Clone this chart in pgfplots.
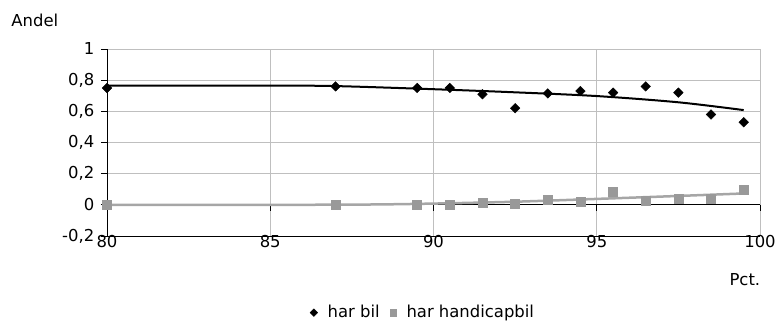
\documentclass[border=0pt]{standalone}
\usepackage{pgfplots}
\pgfplotsset{compat=1.18}
\usepackage{fontspec}
\setmainfont{DejaVu Sans}
\definecolor{grid}{HTML}{3A3A3A}
\definecolor{sgray}{HTML}{999999}
\definecolor{tgray}{HTML}{A6A6A6}
\begin{document}
\fontsize{16.5}{19}\selectfont
\begin{tikzpicture}
\useasboundingbox (0,0) rectangle (778bp,333bp);
\begin{axis}[
  at={(107bp,97bp)}, anchor=south west,
  scale only axis, width=653bp, height=187bp,
  xmin=80, xmax=100, ymin=-0.2, ymax=1,
  xtick={80,85,90,95,100},
  ytick={-0.2,0,0.2,0.4,0.6,0.8,1},
  axis lines*=left,
  axis line style={black, line width=0.8bp, -},
  ymajorgrids, grid style={grid, line width=0.8bp},
  x tick style={draw=none},
  y tick style={black, line width=0.8bp},
  tick align=outside, major tick length=6bp,
  xticklabel style={anchor=center, yshift=0bp, font=\fontsize{16.5}{19}\selectfont},
  yticklabel style={font=\fontsize{16.5}{19}\selectfont, xshift=-1bp},
  /pgf/number format/use comma,
  /pgf/number format/assume math mode=true,
  xlabel={Pct.},
  xlabel style={at={(axis description cs:1.009,-0.235)}, anchor=east, font=\fontsize{16.5}{19}\selectfont},
  ylabel={Andel},
  ylabel style={rotate=-90, at={(axis description cs:-0.155,1.155)}, anchor=west, font=\fontsize{16.5}{19}\selectfont},
  legend columns=2,
  legend style={at={(axis description cs:0.484,-0.41)}, anchor=center, draw=none, fill=none,
    font=\fontsize{16.5}{19}\selectfont, column sep=8bp},
  legend cell align=left,
  clip=false,
]
\draw[black, line width=0.8bp] (axis cs:80,0) -- (axis cs:100,0);
\draw[black, line width=0.8bp] (axis cs:85,0) -- ([yshift=-6bp]axis cs:85,0);
\draw[black, line width=0.8bp] (axis cs:90,0) -- ([yshift=-6bp]axis cs:90,0);
\draw[black, line width=0.8bp] (axis cs:95,0) -- ([yshift=-6bp]axis cs:95,0);
\draw[black, line width=0.8bp] (axis cs:100,0) -- ([yshift=-6bp]axis cs:100,0);
% trend lines
\addplot[black, line width=2bp, smooth, forget plot] coordinates {
(80,0.765) (85,0.765) (87,0.762) (90,0.742) (92.5,0.722) (95,0.698) (97.5,0.658) (99.5,0.608)};
\addplot[tgray, line width=2.5bp, smooth, forget plot] coordinates {
(80,0.0) (85,0.0) (88,0.002) (90,0.008) (92.5,0.02) (95,0.038) (97.5,0.057) (99.5,0.073)};
% data
\addplot[only marks, mark=square*, mark size=3.4bp, black,
  every mark/.append style={rotate=45},
  legend image post style={mark size=2.7bp}] coordinates {
(80,0.75) (87,0.76) (89.5,0.75) (90.5,0.75) (91.5,0.71) (92.5,0.62) (93.5,0.715)
(94.5,0.73) (95.5,0.72) (96.5,0.76) (97.5,0.72) (98.5,0.58) (99.5,0.53)};
\addlegendentry{har bil}
\addplot[only marks, mark=square*, mark size=4.5bp, sgray,
  legend image post style={mark size=3.4bp}] coordinates {
(80,0.0) (87,0.0) (89.5,0.0) (90.5,0.0) (91.5,0.013) (92.5,0.01) (93.5,0.03)
(94.5,0.02) (95.5,0.083) (96.5,0.024) (97.5,0.037) (98.5,0.037) (99.5,0.094)};
\addlegendentry{har handicapbil}
\end{axis}
\end{tikzpicture}
\end{document}
